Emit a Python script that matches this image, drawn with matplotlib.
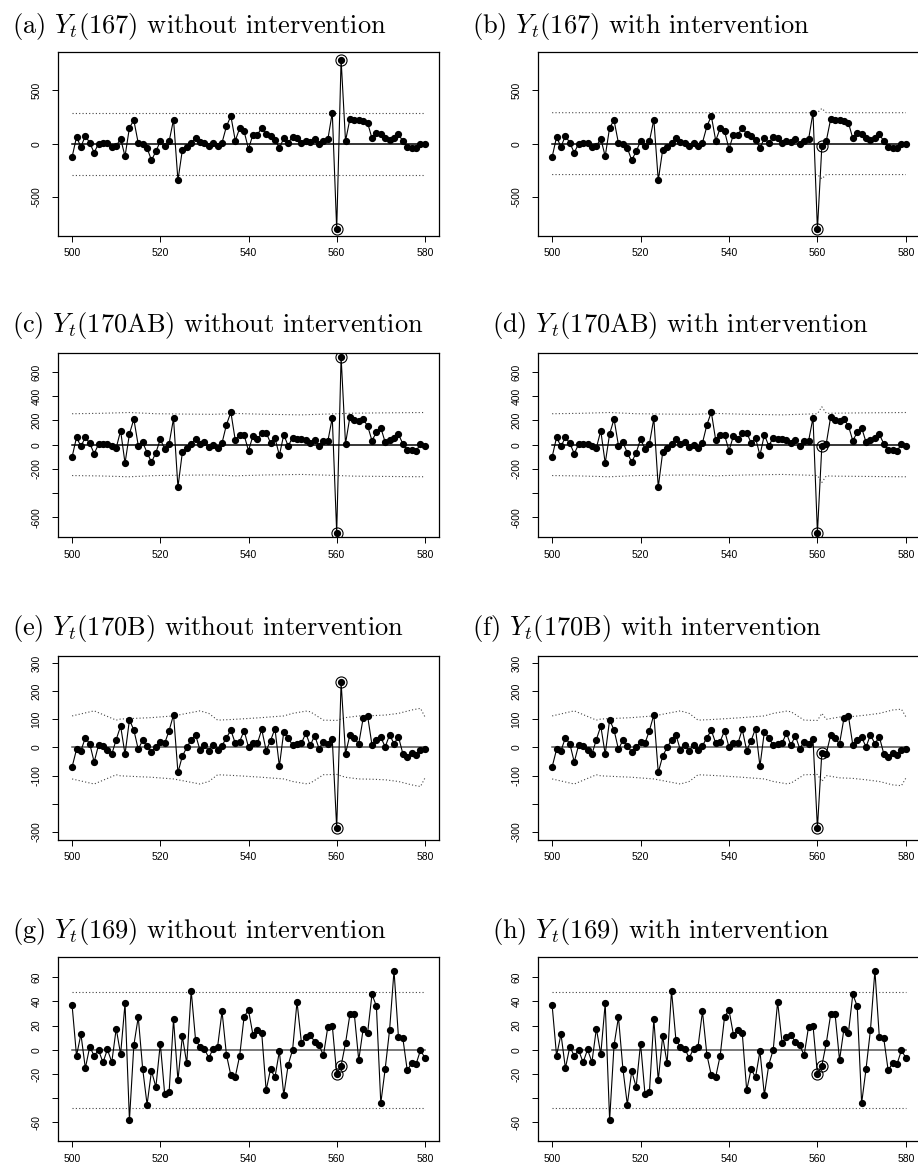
import numpy as np
import matplotlib.pyplot as plt

plt.rcParams['font.family'] = ['Liberation Sans', 'DejaVu Sans']
plt.rcParams['mathtext.fontset'] = 'cm'

t = np.arange(500, 581)

# observed series, t = 500..580
y167 = [-125, 62, -31, 75, 6, -84, 0, 3, 6, -28,
        -22, 47, -119, 150, 219, 3, -6, -41, -156, -72,
        22, -22, 22, 225, -344, -59, -34, 9, 50, 19,
        9, -25, 9, -25, 9, 162, 259, 28, 144, 116,
        -50, 84, 84, 147, 91, 75, 37, -41, 50, 9,
        62, 50, 3, 28, 19, 47, -3, 28, 41, 291,
        -803, 787, 25, 231, 219, 219, 209, 197, 50, 100,
        94, 53, 37, 53, 87, 25, -31, -41, -44, 0, -6]
y170ab = [-101, 60, -14, 60, 11, -74, 3, 3, 5, -11,
          -27, 115, -153, 88, 211, -8, 19, -66, -145, -66,
          44, -36, 8, 216, -351, -63, -30, 8, 47, 8,
          19, -22, 0, -25, 14, 164, 268, 36, 79, 79,
          -49, 71, 44, 96, 99, 14, 55, -88, 82, -11,
          58, 49, 44, 38, 11, 38, -8, 33, 30, 222,
          -726, 723, 8, 230, 200, 195, 208, 156, 33, 101,
          140, 19, 38, 55, 85, 8, -44, -44, -52, 5, -8]
y170b = [-69, -7, -11, 34, 13, -52, 9, 5, -8, -24,
         28, 76, -24, 98, 62, -7, 26, 4, -15, 2,
         19, 15, 60, 116, -89, -31, 0, 27, 45, -9,
         7, -11, 9, -8, 6, 35, 61, 15, 21, 60,
         1, 14, 14, 64, -11, 24, 67, -67, 56, 34,
         8, 13, 15, 51, 7, 42, -4, 20, 13, 29,
         -286, 231, -22, 44, 32, 13, 104, 113, 9, 25,
         36, 2, 45, 13, 38, -22, -33, -20, -27, -9, -4]
y169 = [36.7, -4.9, 12.9, -15.1, 2.5, -4.9, -0.3, -10.4, 0.3, -10.1,
        17.5, -3.6, 38.4, -58.1, 3.8, 27.1, -15.6, -45.2, -17.5, -30.7,
        5.2, -36.7, -34.8, 25.2, -25.2, 11.2, -11.2, 49.0, 7.9, 2.7,
        0.8, -6.6, 1.1, 2.7, 31.8, -4.1, -21.1, -22.2, -4.9, 27.4,
        32.9, 12.6, 16.2, 13.7, -33.4, -15.9, -22.7, -1.1, -37.3, -12.3,
        0.0, 39.7, 6.0, 10.4, 12.1, 6.8, 3.6, -4.4, 19.2, 20.0,
        -20.0, -13.2, 5.5, 29.3, 29.3, -8.5, 17.3, 13.7, 45.8, 36.2,
        -44.1, -15.6, 16.7, 65.5, 10.7, 9.6, -17.0, -11.0, -11.8, -0.3, -6.6]

# value at t=561 once the intervention is applied
int167 = -25
int170ab = -11
int170b = -18
int169 = -13.2

# upper control limits (lower = -upper), read at a few times
lim167_t = [500, 580]
lim167 = [290, 290]
lim167i_t = [500, 560, 561, 562, 580]
lim167i = [290, 290, 330, 290, 290]
lim170ab_t = [500, 506, 513, 519, 526, 532, 537, 544, 552, 558, 564, 570, 580]
lim170ab = [255, 258, 265, 255, 252, 250, 257, 250, 246, 252, 260, 262, 265]
lim170abi_t = [500, 506, 513, 519, 526, 532, 537, 544, 552, 558, 560, 561, 562, 564, 570, 580]
lim170abi = [255, 258, 265, 255, 252, 250, 257, 250, 246, 252, 255, 312, 258, 260, 262, 265]
lim170b_t = [500, 505, 510, 511, 518, 523, 526, 529, 531, 533, 537, 543, 548, 550,
             553, 554, 557, 560, 562, 565, 568, 571, 574, 577, 579, 580]
lim170b = [112, 130, 97, 101, 106, 112, 121, 130, 121, 97, 100, 106, 112, 121,
           129, 127, 97, 96, 106, 112, 113, 115, 121, 133, 139, 109]
lim170bi_t = [500, 505, 510, 511, 518, 523, 526, 529, 531, 533, 537, 543, 548, 550,
              553, 554, 557, 560, 561, 562, 565, 568, 571, 574, 577, 579, 580]
lim170bi = [112, 130, 97, 101, 106, 112, 121, 130, 121, 97, 100, 106, 112, 121,
            129, 127, 97, 96, 121, 100, 108, 110, 115, 121, 133, 136, 109]
lim169_t = [500, 580]
lim169 = [47.7, 47.7]

ylims = [(-866, 859), (-762, 756), (-329, 325), (-75.3, 76.7)]
yticks = [[-500, 0, 500],
          [-600, -400, -200, 0, 200, 400, 600],
          [-300, -200, -100, 0, 100, 200, 300],
          [-60, -40, -20, 0, 20, 40, 60]]
yticklabels = [['-500', '0', '500'],
               ['-600', '', '-200', '0', '200', '400', '600'],
               ['-300', '', '-100', '0', '100', '200', '300'],
               ['-60', '', '-20', '0', '20', '40', '60']]
xticks = [500, 520, 540, 560, 580]

names = ['167', '170AB', '170B', '169']
series = [y167, y170ab, y170b, y169]
interv = [int167, int170ab, int170b, int169]
lims_no = [(lim167_t, lim167), (lim170ab_t, lim170ab), (lim170b_t, lim170b), (lim169_t, lim169)]
lims_in = [(lim167i_t, lim167i), (lim170abi_t, lim170abi), (lim170bi_t, lim170bi), (lim169_t, lim169)]
zero_col = ['black', 'black', '#555555', '#555555']

W, H = 918, 1168
fig = plt.figure(figsize=(W / 100, H / 100), dpi=100)

box_tops = [52, 353, 656, 957]
title_base = [33, 332, 635, 938]
box_h = 184
cols = [(58, 381), (538, 382)]
title_x = [[12, 472], [12, 492], [12, 472], [12, 492]]
letters = 'abcdefgh'

for r in range(4):
    for c in range(2):
        x0, w = cols[c]
        ax = fig.add_axes([x0 / W, 1 - (box_tops[r] + box_h) / H, w / W, box_h / H])
        y = np.array(series[r], dtype=float)
        if c == 1:
            y[61] = interv[r]
            lt, lv = lims_in[r]
            word = 'with'
        else:
            lt, lv = lims_no[r]
            word = 'without'
        lv = np.array(lv, dtype=float)
        ax.plot(lt, lv, color='#444444', lw=0.8, ls=(0, (1, 2)))
        ax.plot(lt, -lv, color='#444444', lw=0.8, ls=(0, (1, 2)))
        ax.plot([500, 580], [0, 0], color=zero_col[r], lw=1.1)
        ax.plot(t, y, color='black', lw=0.8, marker='o', ms=4.2, mfc='black', mec='black')
        ax.plot(t[60:62], y[60:62], ls='none', marker='o', ms=8, mfc='none', mec='black', mew=0.8)
        ax.set_xlim(496.8, 583.2)
        ax.set_ylim(*ylims[r])
        ax.set_xticks(xticks)
        ax.set_yticks(yticks[r])
        ax.set_yticklabels(yticklabels[r])
        ax.tick_params(axis='both', direction='out', length=4, width=0.7, labelsize=7.5, colors='black')
        ax.tick_params(axis='x', pad=5)
        ax.tick_params(axis='y', pad=8, labelrotation=90)
        for lab in ax.get_yticklabels():
            lab.set_va('center')
        for s in ax.spines.values():
            s.set_linewidth(0.9)
        lab = '(%s) $Y_t$(%s) %s intervention' % (letters[2 * r + c], names[r], word)
        fig.text(title_x[r][c] / W, 1 - title_base[r] / H, lab, fontfamily='cmr10',
                 fontsize=19, ha='left', va='baseline')

fig.savefig('out.png', dpi=100)
